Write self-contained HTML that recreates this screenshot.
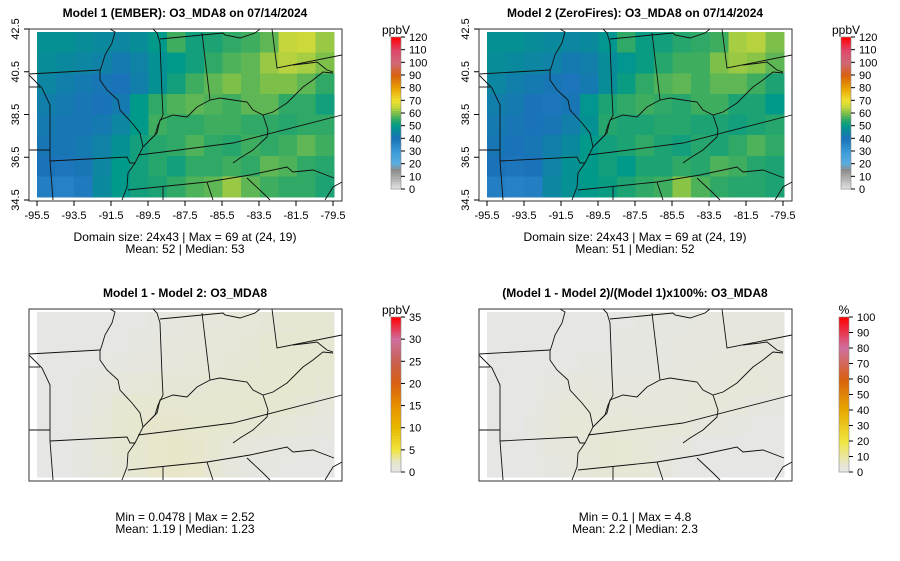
<!DOCTYPE html>
<html><head><meta charset="utf-8"><style>
body{margin:0;background:#fff;}
svg{display:block;font-family:"Liberation Sans",sans-serif;}
</style></head><body>
<svg id="root" width="900" height="561" viewBox="0 0 900 561"></svg>
<script>
// ---- data (1 degree cells, rows north->south, cols west->east) ----
const lonTicks = ["-95.5","-93.5","-91.5","-89.5","-87.5","-85.5","-83.5","-81.5","-79.5"];
const latTicks = ["42.5","40.5","38.5","36.5","34.5"];
const ppbTicks = [0,10,20,30,40,50,60,70,80,90,100,110,120];
const diffTicks = [0,5,10,15,20,25,30,35];
const pctTicks = [0,10,20,30,40,50,60,70,80,90,100];
const model1 = [
 [48,48,47,46,45,47,50,56,52,53,55,56,58,65,66,62],
 [47,46,45,44,42,44,48,50,52,55,57,58,62,64,63,60],
 [45,43,42,41,40,43,48,52,56,58,60,58,60,60,58,55],
 [43,42,41,40,42,50,55,57,58,57,56,58,58,55,55,52],
 [42,41,41,42,45,50,56,55,55,56,56,55,55,54,55,55],
 [41,41,42,44,48,52,54,55,57,55,54,56,55,56,58,56],
 [40,39,41,45,50,52,54,52,55,55,56,55,58,57,55,54],
 [37,36,38,46,50,52,53,55,57,58,62,58,56,55,55,53]];
const model2 = [
 [48,48,47,46,45,46,49,55,51,52,54,55,56,63,64,60],
 [47,46,45,44,42,43,47,49,51,54,56,56,60,62,61,58],
 [45,43,42,41,39,42,47,51,55,57,58,56,58,58,56,53],
 [43,42,40,39,41,49,53,55,56,55,54,56,56,53,53,50],
 [42,41,40,41,43,48,54,53,53,54,54,53,53,52,53,54],
 [41,40,41,43,46,50,52,53,55,53,52,54,53,55,57,55],
 [40,39,40,44,48,50,52,50,53,53,55,54,57,56,54,53],
 [37,36,37,45,48,50,51,53,55,56,61,57,55,54,54,53]];
const diff = [
 [0.3,0.3,0.3,0.3,0.4,0.5,0.8,1.0,1.1,1.2,1.3,1.4,1.5,1.6,1.7,1.6],
 [0.3,0.3,0.3,0.4,0.5,0.6,0.9,1.1,1.2,1.3,1.4,1.5,1.7,1.8,1.8,1.7],
 [0.3,0.3,0.4,0.5,0.7,0.9,1.1,1.2,1.3,1.4,1.5,1.6,1.8,1.9,1.9,1.8],
 [0.3,0.4,0.6,0.9,1.2,1.4,1.5,1.5,1.5,1.6,1.7,1.8,1.9,2.0,1.9,1.6],
 [0.3,0.5,0.8,1.2,1.6,1.8,1.8,1.7,1.7,1.8,1.9,2.0,1.9,1.8,1.5,1.2],
 [0.3,0.5,0.9,1.4,1.8,2.0,2.1,2.1,2.0,2.0,1.9,1.7,1.5,1.3,1.1,0.9],
 [0.3,0.4,0.8,1.3,1.7,2.0,2.2,2.3,2.1,1.8,1.4,1.1,0.9,0.7,0.6,0.5],
 [0.2,0.3,0.6,1.1,1.5,1.9,2.2,2.4,2.2,1.6,1.1,0.8,0.6,0.5,0.4,0.3]];
const pct = [
 [0.6,0.6,0.6,0.6,0.9,1.1,1.6,1.8,2.1,2.3,2.4,2.5,2.6,2.5,2.6,2.6],
 [0.6,0.6,0.7,0.9,1.2,1.4,1.9,2.2,2.3,2.4,2.5,2.6,2.7,2.8,2.9,2.8],
 [0.7,0.7,1.0,1.2,1.8,2.1,2.3,2.3,2.3,2.4,2.5,2.8,3.0,3.2,3.3,3.3],
 [0.7,1.0,1.5,2.3,2.9,2.8,2.7,2.6,2.6,2.8,3.0,3.1,3.3,3.6,3.5,3.1],
 [0.7,1.2,2.0,2.9,3.6,3.6,3.2,3.1,3.1,3.2,3.4,3.6,3.5,3.3,2.7,2.2],
 [0.7,1.2,2.1,3.2,3.8,3.8,3.9,3.8,3.5,3.6,3.5,3.0,2.7,2.3,1.9,1.6],
 [0.8,1.0,2.0,2.9,3.4,3.8,4.1,4.4,3.8,3.3,2.5,2.0,1.6,1.2,1.1,0.9],
 [0.5,0.8,1.6,2.4,3.0,3.7,4.2,4.4,3.9,2.8,1.8,1.4,1.1,0.9,0.7,0.6]];

const NS="http://www.w3.org/2000/svg";
const root=document.getElementById('root');
function mk(tag,attrs,parent){const e=document.createElementNS(NS,tag);for(const k in attrs)e.setAttribute(k,attrs[k]);(parent||root).appendChild(e);return e;}
function hex(h){return [parseInt(h.slice(1,3),16),parseInt(h.slice(3,5),16),parseInt(h.slice(5,7),16)];}
function scale(stops){return v=>{if(v<=stops[0][0])return stops[0][1];for(let i=1;i<stops.length;i++){if(v<=stops[i][0]){const a=stops[i-1],b=stops[i];const t=(v-a[0])/(b[0]-a[0]);const ca=hex(a[1]),cb=hex(b[1]);return 'rgb('+ca.map((c,j)=>Math.round(c+(cb[j]-c)*t)).join(',')+')';}}return stops[stops.length-1][1];};}
const ppbCol=scale([[0,'#e6e6e6'],[10,'#a8a8a8'],[15,'#8c8c8c'],[20,'#5aaee0'],[30,'#3a9ad8'],[40,'#1a72b8'],[50,'#00998a'],[55,'#30a866'],[60,'#7cc04a'],[65,'#c4d63c'],[70,'#f0e030'],[80,'#e8a000'],[90,'#d86010'],[100,'#d06878'],[110,'#e04468'],[120,'#ff0000']]);
const diffCol=scale([[0,'#e6e6e6'],[1,'#e6e6de'],[2.5,'#e8e6c6'],[5,'#f0e640'],[10,'#e8b800'],[15,'#e89000'],[20,'#d86010'],[25,'#c86050'],[30,'#d070a0'],[35,'#ff0000']]);
const pctCol=scale([[0,'#e6e6e6'],[2,'#e6e6e2'],[5,'#e8e6d0'],[20,'#f0e640'],[40,'#e8a800'],[60,'#d86010'],[80,'#d070a0'],[100,'#ff0000']]);

const DX0=37,DX1=334;
function xLon(l){return 37+(l+95.5)*18.5;}
function yLat(l){return 29+(42.5-l)*21.375;}

const borders=[
 [[29,74],[100,70]],
 [[29,75],[42,88],[50,105],[50,161],[53,200]],
 [[29,87],[40,87]],
 [[29,150],[50,150]],
 [[50,161],[127,157],[130,163],[135,163]],
 [[110,29],[115,32],[112,43],[105,55],[102,65],[100,71],[100,80],[107,90],[118,100],[120,110],[132,123],[140,133],[143,147],[138,157],[135,163],[128,173],[127,187],[122,200]],
 [[110,29],[153,29],[157,33],[160,43],[162,95],[163,115],[158,125],[155,135],[150,140]],
 [[143,147],[150,140],[157,133],[160,120],[173,115],[187,117],[197,107],[210,100],[220,98],[233,100],[247,102],[253,110],[263,115],[273,112],[287,103],[293,97],[303,87],[313,80],[323,72],[333,73]],
 [[202,33],[210,100]],
 [[160,39],[223,33],[225,35],[240,38],[255,33],[260,29]],
 [[272,29],[277,68],[342,55]],
 [[293,65],[310,63],[317,62],[327,70],[333,72]],
 [[138,155],[163,152],[233,143],[342,115]],
 [[263,115],[268,130],[267,137],[253,150],[240,158],[233,163]],
 [[128,190],[207,182],[250,175],[287,167],[293,172],[313,170],[334,178]],
 [[247,178],[263,193],[270,200]],
 [[207,182],[213,200]],
 [[163,187],[163,200]],
 [[325,200],[333,187],[342,182]]
];

function panel(ox,oy,title,grid,colf,name,axes){
 const g=mk('g',{transform:`translate(${ox},${oy})`,});
 const t=mk('text',{x:185,y:-12,'text-anchor':'middle','font-size':12,'font-weight':'bold'},g);t.textContent=title;
 
 const hm=mk('g',{'shape-rendering':'crispEdges'},g);
 
 const rows=grid.length,cols=grid[0].length;
 const cw=(DX1-DX0)/cols, ch=(197-32)/rows;
 grid.forEach((row,r)=>row.forEach((v,c)=>{
  const rc=mk('rect',{x:DX0+c*cw,y:3+r*ch,width:cw+0.5,height:ch+0.5,fill:colf(v)},hm);
  
  
 }));
 const bg=mk('g',{fill:'none',stroke:'#111','stroke-width':0.9},g);
 
 borders.forEach(b=>{mk('polyline',{points:b.map(q=>q[0]+','+(q[1]-29)).join(' ')},bg);});
 const fr=mk('rect',{x:29,y:0,width:313,height:172,fill:'none',stroke:'#333','stroke-width':1},g);
 
 if(axes){
  const ax=mk('g',{'font-size':11,fill:'#000'},g);
  
  lonTicks.forEach(s=>{const x=xLon(parseFloat(s));mk('line',{x1:x,x2:x,y1:172,y2:177,stroke:'#000'},ax);const tt=mk('text',{x:x,y:190,'text-anchor':'middle'},ax);tt.textContent=s;});
  const ay=mk('g',{'font-size':11,fill:'#000'},g);
  
  latTicks.forEach(s=>{const y=yLat(parseFloat(s))-29;mk('line',{x1:24,x2:29,y1:y,y2:y,stroke:'#000'},ay);const tt=mk('text',{x:0,y:0,'text-anchor':'middle',transform:`translate(19,${y}) rotate(-90)`},ay);tt.textContent=s;});
 }
 return g;
}
function colorbar(x,y0,y1,ticks,colf,label,name){
 const g=mk('g',{});
 const mx=ticks[ticks.length-1];
 const n=60;
 for(let i=0;i<n;i++){const v=mx*(i+0.5)/n;mk('rect',{x:x,y:y1-(i+1)*(y1-y0)/n,width:10,height:(y1-y0)/n+0.4,fill:colf(v),'shape-rendering':'crispEdges'},g);}
 mk('rect',{x:x,y:y0,width:10,height:y1-y0,fill:'none',stroke:'#888','stroke-width':0.6},g);
 ticks.forEach(v=>{const y=y1-(v/mx)*(y1-y0);mk('line',{x1:x+10,x2:x+14,y1:y,y2:y,stroke:'#000'},g);const t=mk('text',{x:x+18,y:y+4,'font-size':11},g);t.textContent=v;});
 const lt=mk('text',{x:x+5,y:y0-3,'text-anchor':'middle','font-size':12},g);lt.textContent=label;
}
function stats(cx,y,lines){lines.forEach((s,i)=>{const t=mk('text',{x:cx,y:y+i*12,'text-anchor':'middle','font-size':12});t.textContent=s;});}

panel(0,29,'Model 1 (EMBER): O3_MDA8 on 07/14/2024',model1,ppbCol,'panel-model1',true);
panel(450,29,'Model 2 (ZeroFires): O3_MDA8 on 07/14/2024',model2,ppbCol,'panel-model2',true);
panel(0,309,'Model 1 - Model 2: O3_MDA8',diff,diffCol,'panel-difference',false);
panel(450,309,'(Model 1 - Model 2)/(Model 1)x100%: O3_MDA8',pct,pctCol,'panel-percent-difference',false);
colorbar(391,37,189,ppbTicks,ppbCol,'ppbV','colorbar-model1');
colorbar(841,37,189,ppbTicks,ppbCol,'ppbV','colorbar-model2');
colorbar(391,317,472,diffTicks,diffCol,'ppbV','colorbar-difference');
colorbar(839,317,472,pctTicks,pctCol,'%','colorbar-percent');
stats(185,241,['Domain size: 24x43 | Max = 69 at (24, 19)','Mean: 52 |  Median: 53']);
stats(635,241,['Domain size: 24x43 | Max = 69 at (24, 19)','Mean: 51 |  Median: 52']);
stats(185,521,['Min = 0.0478 | Max = 2.52','Mean: 1.19 |  Median: 1.23']);
stats(635,521,['Min = 0.1 | Max = 4.8','Mean: 2.2 |  Median: 2.3']);
</script>
</body></html>
